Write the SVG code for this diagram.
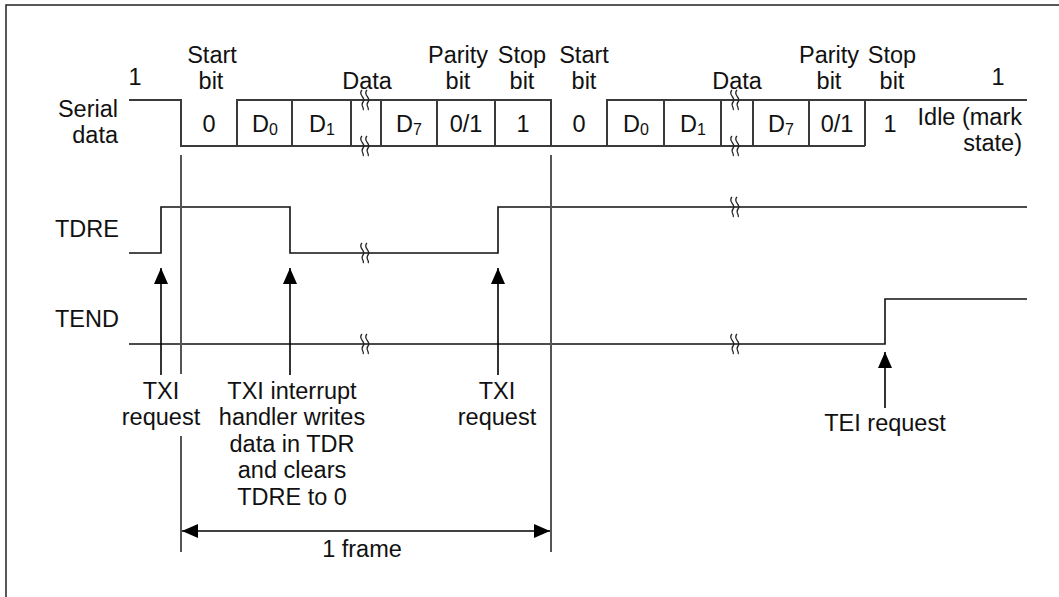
<svg xmlns="http://www.w3.org/2000/svg" width="1059" height="597" viewBox="0 0 1059 597">
<style>
text{font-family:"Liberation Sans",Arial,sans-serif;font-size:23.5px;fill:#111}
.m{text-anchor:middle}
.e{text-anchor:end}
.sig{fill:none;stroke:#3a3a3a;stroke-width:2}
.wave{fill:none;stroke:#111;stroke-width:1.6}
.mark{fill:none;stroke:#555;stroke-width:2}
.arr{fill:none;stroke:#000;stroke-width:1.6}
.brk{fill:none;stroke:#222;stroke-width:1.3}
.sub{font-size:16px}
</style>
<defs>
<marker id="ah" viewBox="0 0 16 14" refX="16" refY="7" markerWidth="16" markerHeight="14" markerUnits="userSpaceOnUse" orient="auto-start-reverse">
<path d="M0,0 L16,7 L0,14 Z" fill="#000"/>
</marker>
<path id="sq" d="M-2,-10 C-7,-5 3,-2 -1,2 C-4,6 1,8 -1,10 M3,-10 C-2,-5 8,-2 4,2 C1,6 6,8 4,10"/>
</defs>
<rect width="1059" height="597" fill="#fff"/>
<path d="M6,597 V5 H1059" fill="none" stroke="#222" stroke-width="1.5"/>

<g id="labels-top">
<text class="m" x="135" y="85">1</text>
<text class="m" x="212" y="63">Start</text><text class="m" x="211" y="89">bit</text>
<text class="m" x="367" y="89">Data</text>
<text class="m" x="458" y="63">Parity</text><text class="m" x="458" y="89">bit</text>
<text class="m" x="522" y="63">Stop</text><text class="m" x="522" y="89">bit</text>
<text class="m" x="584" y="63">Start</text><text class="m" x="584" y="89">bit</text>
<text class="m" x="737" y="89">Data</text>
<text class="m" x="829" y="63">Parity</text><text class="m" x="829" y="89">bit</text>
<text class="m" x="892" y="63">Stop</text><text class="m" x="892" y="89">bit</text>
<text class="m" x="998" y="85">1</text>
</g>

<g id="serial-data">
<text class="e" x="118" y="117">Serial</text>
<text class="e" x="118" y="143">data</text>
<path class="sig" d="M129,100 H181 V146 H865 M237,146 V100 H551 V146 M292,100 V146 M351,100 V146 M381,100 V146 M437,100 V146 M495,100 V146 M607,146 V100 H1027 M664,100 V146 M721,100 V146 M753,100 V146 M809,100 V146 M865,100 V146"/>
<use href="#sq" x="364" y="100" class="brk"/>
<use href="#sq" x="364" y="146" class="brk"/>
<use href="#sq" x="734" y="100" class="brk"/>
<use href="#sq" x="734" y="146" class="brk"/>
<text class="m" x="209" y="132">0</text>
<text class="m" x="265" y="132">D<tspan class="sub" dy="3">0</tspan></text>
<text class="m" x="322" y="132">D<tspan class="sub" dy="3">1</tspan></text>
<text class="m" x="409" y="132">D<tspan class="sub" dy="3">7</tspan></text>
<text class="m" x="466" y="132">0/1</text>
<text class="m" x="523" y="132">1</text>
<text class="m" x="579" y="132">0</text>
<text class="m" x="636" y="132">D<tspan class="sub" dy="3">0</tspan></text>
<text class="m" x="693" y="132">D<tspan class="sub" dy="3">1</tspan></text>
<text class="m" x="781" y="132">D<tspan class="sub" dy="3">7</tspan></text>
<text class="m" x="837" y="132">0/1</text>
<text class="m" x="890" y="132">1</text>
<text class="e" x="1022" y="125">Idle (mark</text>
<text class="e" x="1022" y="151">state)</text>
</g>

<g id="tdre">
<text x="55" y="237">TDRE</text>
<path class="wave" d="M129,253 H161 V207 H290 V253 H498 V207 H1027"/>
<use href="#sq" x="364" y="253" class="brk"/>
<use href="#sq" x="734" y="207" class="brk"/>
</g>

<g id="tend">
<text x="55" y="327">TEND</text>
<path class="wave" d="M129,344 H885 V299 H1027"/>
<use href="#sq" x="364" y="344" class="brk"/>
<use href="#sq" x="734" y="344" class="brk"/>
</g>

<g id="frame-marks">
<path class="mark" d="M181,155 V374 M181,436 V552 M551,155 V552"/>
</g>

<g id="connectors">
<path class="arr" d="M161,375 V268" marker-end="url(#ah)"/>
<path class="arr" d="M290,375 V268" marker-end="url(#ah)"/>
<path class="arr" d="M498,375 V268" marker-end="url(#ah)"/>
<path class="arr" d="M885,408 V352" marker-end="url(#ah)"/>
<path class="arr" d="M182,531 H550" marker-start="url(#ah)" marker-end="url(#ah)"/>
</g>

<g id="labels-bottom">
<text class="m" x="161" y="399">TXI</text>
<text class="m" x="161" y="425">request</text>
<text class="m" x="292" y="399">TXI interrupt</text>
<text class="m" x="292" y="425">handler writes</text>
<text class="m" x="292" y="452">data in TDR</text>
<text class="m" x="292" y="478">and clears</text>
<text class="m" x="292" y="505">TDRE to 0</text>
<text class="m" x="497" y="399">TXI</text>
<text class="m" x="497" y="425">request</text>
<text class="m" x="885" y="431">TEI request</text>
<text class="m" x="362" y="557">1 frame</text>
</g>
</svg>
